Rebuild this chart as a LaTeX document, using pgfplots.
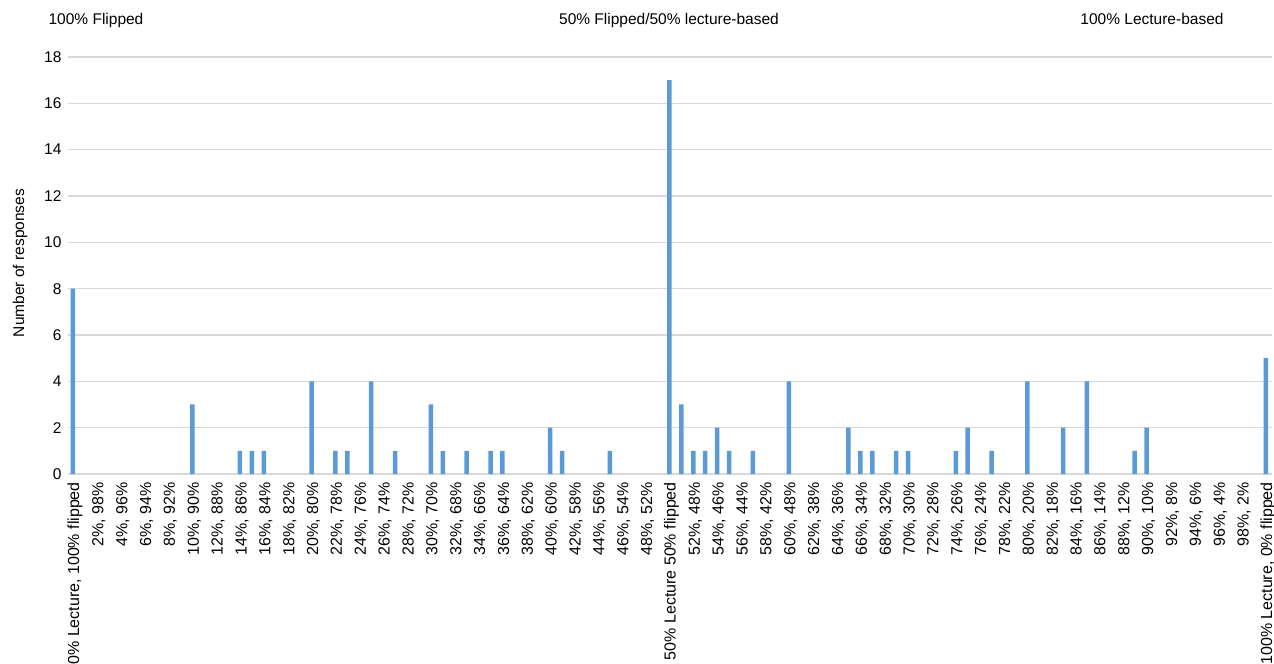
\documentclass[border=0pt]{standalone}
\usepackage{pgfplots}
\pgfplotsset{compat=1.18}
\usepackage{fontspec}
\setmainfont{Liberation Sans}

\definecolor{barblue}{HTML}{5B9BD5}
\definecolor{gridgray}{HTML}{D9D9D9}

\begin{document}
\begin{tikzpicture}
\fontsize{15.5bp}{18bp}\selectfont
\useasboundingbox (0,0) rectangle (1274bp,664bp);

% headings above the plot
\node[anchor=base] at (96bp,639bp) {100\% Flipped};
\node[anchor=base] at (669bp,639bp) {50\% Flipped/50\% lecture-based};
\node[anchor=base] at (1152bp,639bp) {100\% Lecture-based};
\node[rotate=90] at (20bp,401bp) {Number of responses};

\begin{axis}[
    at={(67.6bp,190bp)}, anchor=south west,
    scale only axis,
    width=1204.3bp, height=417bp,
    xmin=-0.45, xmax=100.5,
    ymin=0, ymax=18,
    ytick={0,2,...,18},
    xtick={0,2,...,100},
    xticklabels={
        {0\% Lecture, 100\% flipped},{2\%, 98\%},{4\%, 96\%},{6\%, 94\%},{8\%, 92\%},
        {10\%, 90\%},{12\%, 88\%},{14\%, 86\%},{16\%, 84\%},{18\%, 82\%},
        {20\%, 80\%},{22\%, 78\%},{24\%, 76\%},{26\%, 74\%},{28\%, 72\%},
        {30\%, 70\%},{32\%, 68\%},{34\%, 66\%},{36\%, 64\%},{38\%, 62\%},
        {40\%, 60\%},{42\%, 58\%},{44\%, 56\%},{46\%, 54\%},{48\%, 52\%},
        {50\% Lecture 50\% flipped},
        {52\%, 48\%},{54\%, 46\%},{56\%, 44\%},{58\%, 42\%},{60\%, 48\%},
        {62\%, 38\%},{64\%, 36\%},{66\%, 34\%},{68\%, 32\%},{70\%, 30\%},
        {72\%, 28\%},{74\%, 26\%},{76\%, 24\%},{78\%, 22\%},{80\%, 20\%},
        {82\%, 18\%},{84\%, 16\%},{86\%, 14\%},{88\%, 12\%},{90\%, 10\%},
        {92\%, 8\%},{94\%, 6\%},{96\%, 4\%},{98\%, 2\%},
        {100\% Lecture, 0\% flipped}},
    x tick label style={rotate=90, anchor=east, inner sep=0pt,
        xshift=-8bp, yshift=-2bp,
        font=\fontsize{16bp}{19bp}\selectfont},
    y tick label style={inner sep=0pt, xshift=-6bp},
    /pgf/number format/assume math mode=true,
    major tick length=0pt,
    ymajorgrids,
    grid style={gridgray, line width=1.6bp},
    axis x line*=bottom, axis y line*=left,
    x axis line style={gridgray, line width=1.6bp, -},
    y axis line style={draw=none},
    clip=false,
]
\addplot[ybar, bar width=4.5bp, fill=barblue, draw=none] coordinates {
    (0,8) (10,3) (14,1) (15,1) (16,1) (20,4) (22,1) (23,1) (25,4) (27,1)
    (30,3) (31,1) (33,1) (35,1) (36,1) (40,2) (41,1) (45,1)
    (50,17) (51,3) (52,1) (53,1) (54,2) (55,1) (57,1) (60,4)
    (65,2) (66,1) (67,1) (69,1) (70,1) (74,1) (75,2) (77,1)
    (80,4) (83,2) (85,4) (89,1) (90,2) (100,5)
};
\end{axis}
\end{tikzpicture}
\end{document}
